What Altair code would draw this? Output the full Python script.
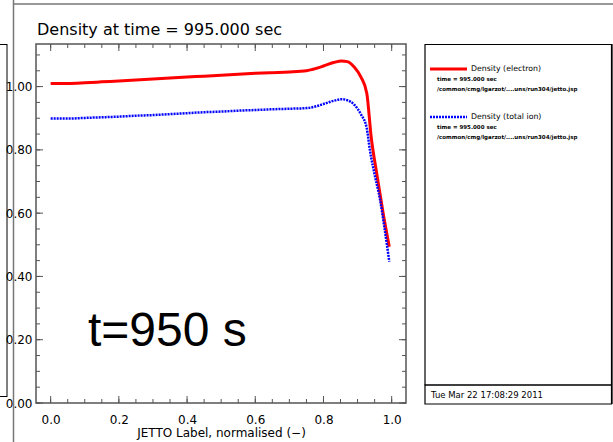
import altair as alt
import pandas as pd

# ---- data ----
x_elec = [0.0, 0.05, 0.1, 0.15, 0.2, 0.25, 0.3, 0.35, 0.4, 0.45, 0.5, 0.55, 0.6, 0.643, 0.7,
          0.75, 0.78, 0.8, 0.83, 0.853, 0.87, 0.89, 0.91, 0.927, 0.94, 0.956, 0.975, 0.993]
y_elec = [1.010, 1.010, 1.012, 1.015, 1.018, 1.021, 1.024, 1.027, 1.030, 1.033, 1.036, 1.039, 1.042, 1.044, 1.046,
          1.050, 1.058, 1.065, 1.076, 1.081, 1.079, 1.062, 1.030, 0.979, 0.84, 0.726, 0.600, 0.494]

x_ion = [0.0, 0.05, 0.1, 0.15, 0.2, 0.25, 0.3, 0.35, 0.4, 0.45, 0.5, 0.55, 0.6, 0.643, 0.7,
         0.75, 0.78, 0.8, 0.83, 0.853, 0.87, 0.89, 0.91, 0.927, 0.936, 0.95, 0.966, 0.98, 0.993]
y_ion = [0.899, 0.899, 0.901, 0.903, 0.905, 0.908, 0.910, 0.913, 0.916, 0.919, 0.921, 0.924, 0.926, 0.928, 0.930,
         0.932, 0.938, 0.945, 0.955, 0.960, 0.957, 0.943, 0.912, 0.868, 0.800, 0.722, 0.642, 0.545, 0.447]

x_major = [0.0, 0.2, 0.4, 0.6, 0.8, 1.0]
x_minor = [round(0.05 * i, 2) for i in range(21)]
y_major = [0.0, 0.2, 0.4, 0.6, 0.8, 1.0]
y_minor = [round(0.05 * i, 2) for i in range(23)]

title_text = "Density at time = 995.000 sec"
x_title = "JETTO Label, normalised (\u2212)"
legend_names = ["Density (electron)", "Density (total ion)"]
legend_time = "time = 995.000 sec"
legend_path = "/common/cmg/lgarzot/....uns/run304/jetto.jsp"
date_text = "Tue Mar 22 17:08:29 2011"
big_text = "t=950 s"

# ---- geometry ----
W, H = 370, 359
XDOM = [-0.043, 1.042]
YDOM = [0.0, 1.1346]
FRAME = "#555555"

xs = alt.Scale(domain=XDOM, nice=False, zero=False)
ys = alt.Scale(domain=YDOM, nice=False, zero=False)

elec = pd.DataFrame({"x": x_elec, "y": y_elec})
ion = pd.DataFrame({"x": x_ion, "y": y_ion})

base_x = alt.X("x:Q", scale=xs, axis=alt.Axis(values=x_major, format=".1f", ticks=False, domain=False,
                                                grid=False, labelPadding=11, labelFontSize=12,
                                                labelFont="DejaVu Sans", labelColor="black",
                                                title=x_title, titleFont="DejaVu Sans", titleFontSize=12,
                                                titleFontWeight="normal", titlePadding=2, titleColor="black"))
base_y = alt.Y("y:Q", scale=ys, axis=alt.Axis(values=y_major, format=".2f", ticks=False, domain=False,
                                                grid=False, labelPadding=4, labelFontSize=12,
                                                labelFont="DejaVu Sans", labelColor="black", title=None))

red_line = alt.Chart(elec).mark_line(color="#ff0000", strokeWidth=3, interpolate="monotone").encode(
    x=base_x, y=base_y)
blue_line = alt.Chart(ion).mark_line(color="#0000ff", strokeWidth=2.5, strokeDash=[2, 1],
                                     interpolate="monotone").encode(
    x=alt.X("x:Q", scale=xs), y=alt.Y("y:Q", scale=ys))

# ticks (inward, all four sides)
def xticks(vals, ln):
    df = pd.DataFrame({"t": vals})
    bot = alt.Chart(df).mark_rule(color=FRAME, strokeWidth=1).encode(
        x=alt.X("t:Q", scale=xs), y=alt.value(H), y2=alt.value(H - ln))
    top = alt.Chart(df).mark_rule(color=FRAME, strokeWidth=1).encode(
        x=alt.X("t:Q", scale=xs), y=alt.value(0), y2=alt.value(ln))
    return [bot, top]

def yticks(vals, ln):
    df = pd.DataFrame({"t": vals})
    lef = alt.Chart(df).mark_rule(color=FRAME, strokeWidth=1).encode(
        y=alt.Y("t:Q", scale=ys), x=alt.value(0), x2=alt.value(ln))
    rig = alt.Chart(df).mark_rule(color=FRAME, strokeWidth=1).encode(
        y=alt.Y("t:Q", scale=ys), x=alt.value(W), x2=alt.value(W - ln))
    return [lef, rig]

ticks = xticks(x_minor, 4) + xticks(x_major, 7) + yticks(y_minor, 4) + yticks(y_major, 7)

one = pd.DataFrame({"a": [0]})

def rule(x1, y1, x2, y2, color=FRAME, w=1.5):
    return alt.Chart(one).mark_rule(color=color, strokeWidth=w).encode(
        x=alt.value(x1 - 36), y=alt.value(y1 - 44), x2=alt.value(x2 - 36), y2=alt.value(y2 - 44))

def box(x1, y1, x2, y2, color="black", w=1.2):
    return alt.Chart(one).mark_rect(fill="white", fillOpacity=0, stroke=color, strokeWidth=w).encode(
        x=alt.value(x1 - 36), y=alt.value(y1 - 44), x2=alt.value(x2 - 36), y2=alt.value(y2 - 44))

def text(s, x, y, size, weight="normal", font="DejaVu Sans", baseline="middle", align="left"):
    return alt.Chart(one).mark_text(text=s, fontSize=size, fontWeight=weight, font=font, color="black",
                                    baseline=baseline, align=align).encode(
        x=alt.value(x - 36), y=alt.value(y - 44))

frame = box(36, 44, 406, 403, color=FRAME, w=1.5)

decor = [
    rule(13.5, 0, 13.5, 442, color="#777777", w=1.5),
    rule(13, 4, 613, 4, color="#777777", w=1.5),
    rule(0, 44.5, 7, 44.5, color="black", w=1),
    rule(7, 44, 7, 397, color="black", w=1),
    rule(0, 396.5, 7, 396.5, color="black", w=1),
    box(425, 44.5, 611.5, 385, color="black", w=1.2),
    box(425, 385, 611.5, 404, color="black", w=1.2),
    rule(612.5, 44, 612.5, 404, color="#555555", w=1),
    text(title_text, 37, 35, 16, baseline="alphabetic"),
    text(big_text, 88, 346, 48, font="Liberation Sans", baseline="alphabetic"),
    # legend
    rule(430, 69, 467, 69, color="#ff0000", w=3),
    text(legend_names[0], 471, 69, 7.8),
    text(legend_time, 437, 79, 5.5, weight="bold"),
    text(legend_path, 437, 89, 5.5, weight="bold"),
    alt.Chart(one).mark_rule(color="#0000ff", strokeWidth=2.5, strokeDash=[2, 1]).encode(
        x=alt.value(430 - 36), x2=alt.value(467 - 36), y=alt.value(117 - 44), y2=alt.value(117 - 44)),
    text(legend_names[1], 471, 117, 7.8),
    text(legend_time, 437, 127, 5.5, weight="bold"),
    text(legend_path, 437, 137, 5.5, weight="bold"),
    text(date_text, 431, 394.5, 8.5),
]

chart = alt.layer(red_line, blue_line, *ticks, frame, *decor).properties(
    width=W, height=H,
    autosize=alt.AutoSizeParams(type="none"),
    padding={"left": 36, "top": 44, "right": 207, "bottom": 39},
    background="white",
).configure_view(stroke=None)

chart.save("out.html", embed_options={"renderer": "svg", "actions": False})
